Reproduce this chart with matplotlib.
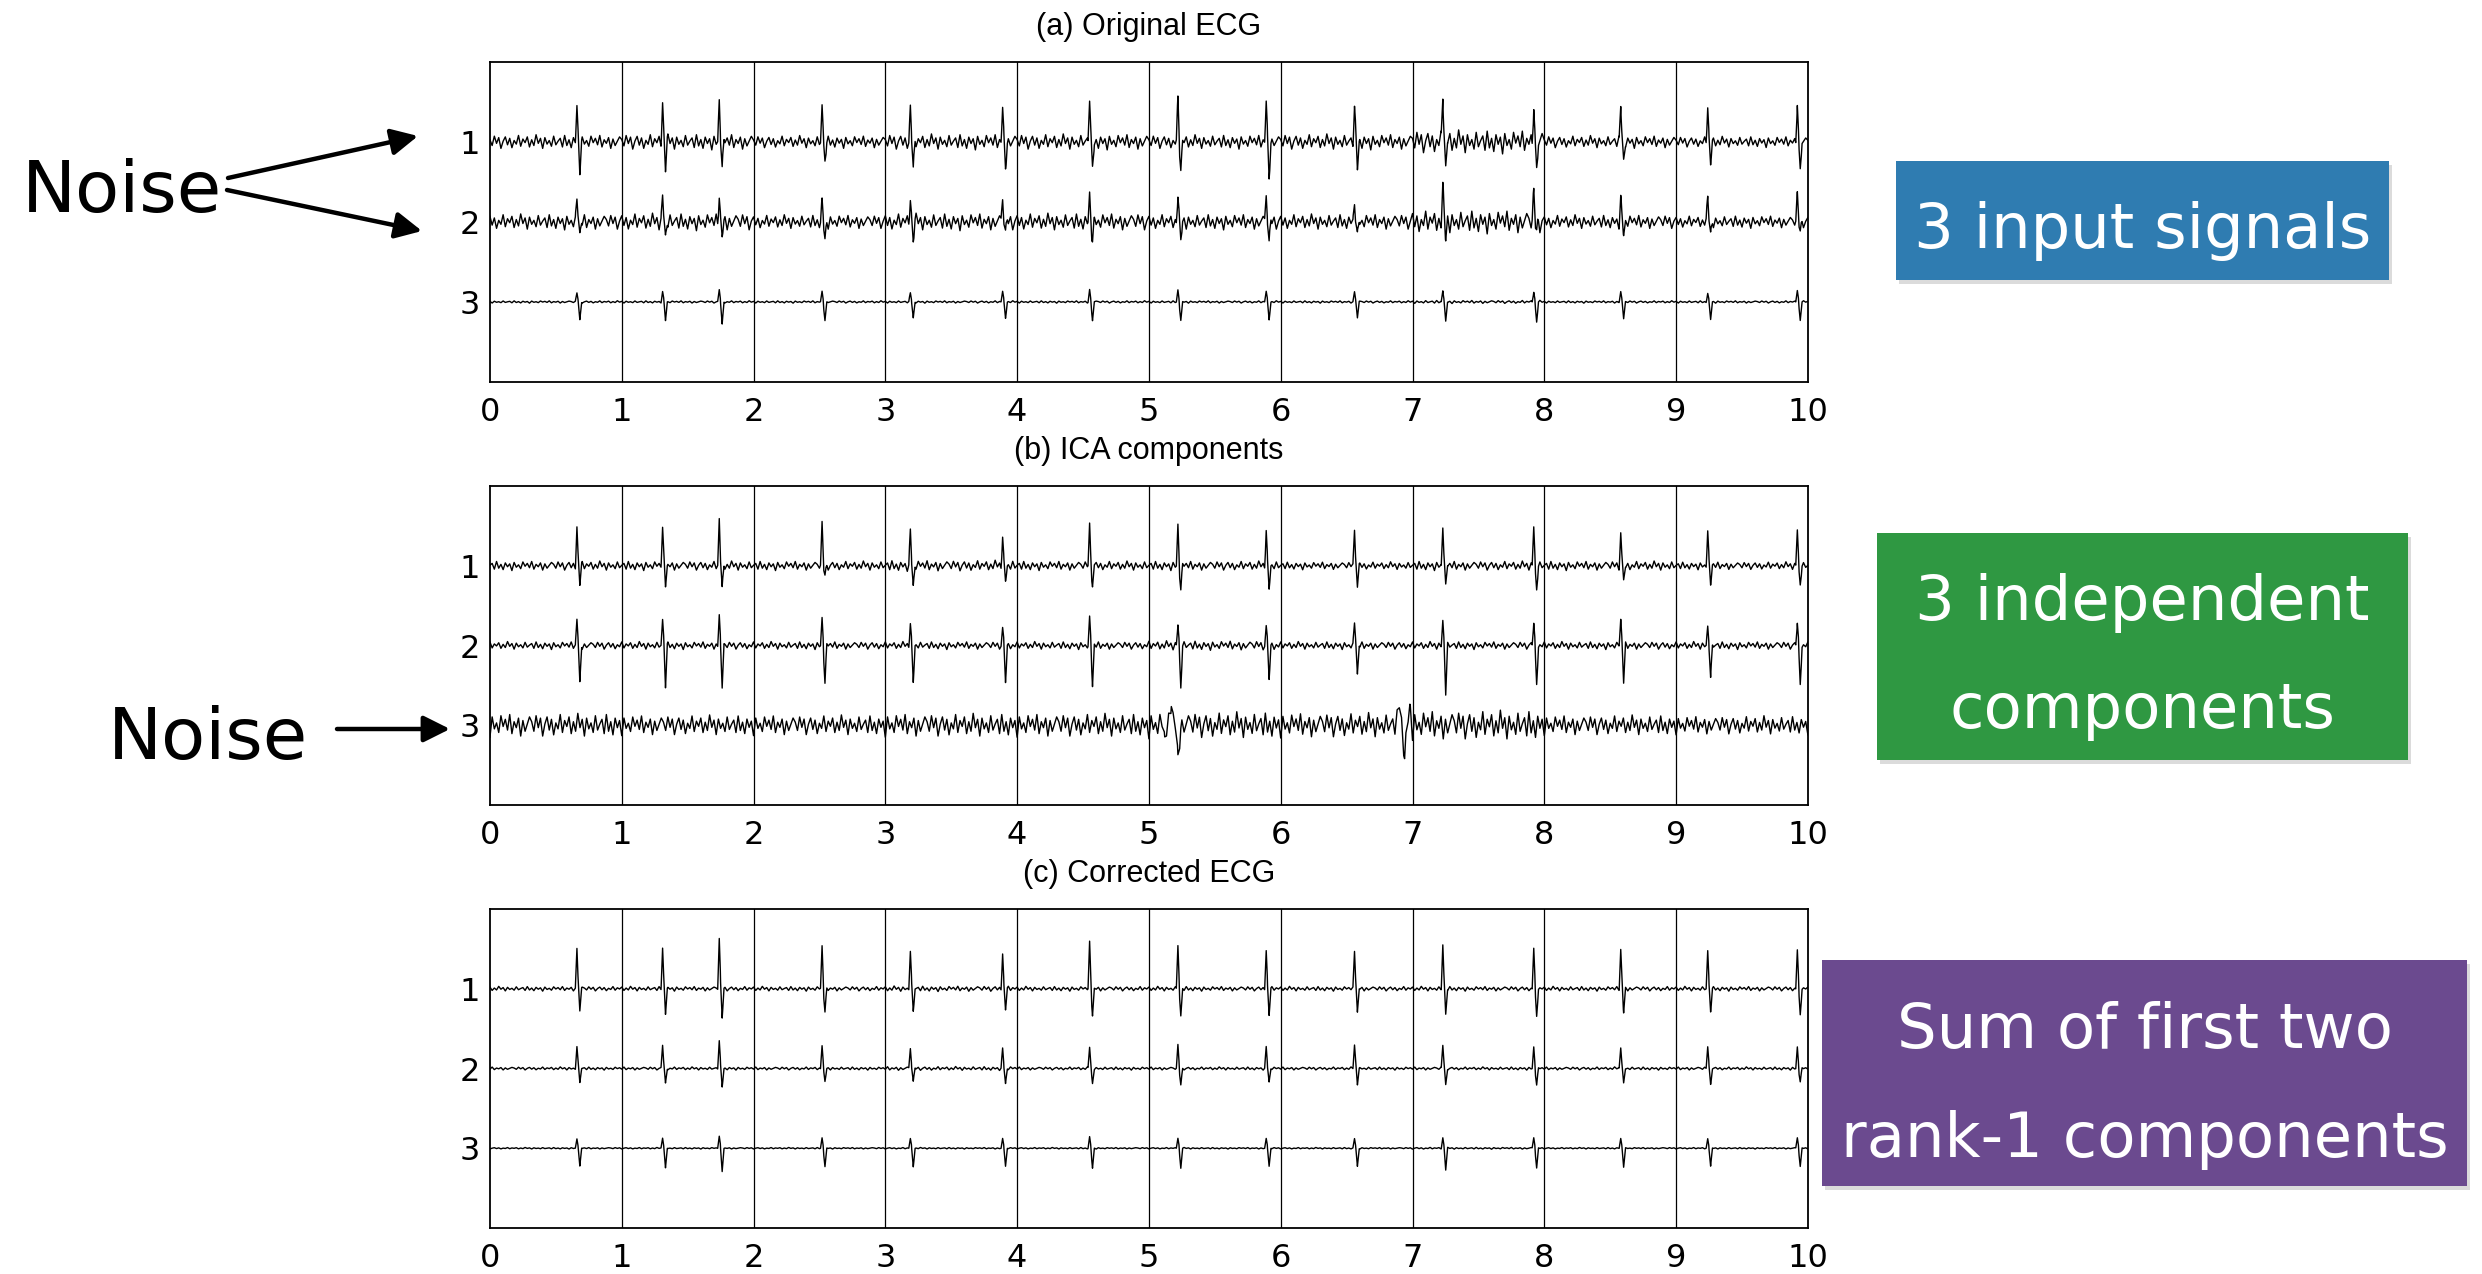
import numpy as np
import matplotlib
import matplotlib.pyplot as plt
from matplotlib.patches import Rectangle

# R-peak times (s), the same beats show in every trace
beat_times = [0.66, 1.31, 1.74, 2.52, 3.19, 3.89, 4.55, 5.22, 5.89, 6.56, 7.23, 7.92, 8.58, 9.24, 9.92]

# spike heights (up) and depths (down) per trace, in row units
a1_up = [0.44, 0.50, 0.54, 0.45, 0.46, 0.42, 0.58, 0.52, 0.50, 0.42, 0.58, 0.50, 0.46, 0.44, 0.50]
a1_dn = [0.33, 0.33, 0.35, 0.23, 0.37, 0.29, 0.35, 0.35, 0.42, 0.31, 0.35, 0.31, 0.23, 0.29, 0.33]
a2_up = [0.26, 0.33, 0.33, 0.26, 0.30, 0.28, 0.33, 0.33, 0.33, 0.26, 0.39, 0.33, 0.30, 0.28, 0.33]
a2_dn = [0.18, 0.18, 0.18, 0.22, 0.22, 0.15, 0.20, 0.26, 0.28, 0.18, 0.22, 0.13, 0.15, 0.15, 0.13]
a3_up = [0.11, 0.13, 0.15, 0.13, 0.11, 0.13, 0.15, 0.15, 0.13, 0.13, 0.15, 0.13, 0.13, 0.11, 0.15]
a3_dn = [0.23, 0.23, 0.28, 0.23, 0.20, 0.20, 0.23, 0.23, 0.22, 0.20, 0.25, 0.25, 0.22, 0.22, 0.23]

b1_up = [0.50, 0.46, 0.58, 0.52, 0.44, 0.38, 0.50, 0.52, 0.46, 0.46, 0.50, 0.50, 0.42, 0.44, 0.46]
b1_dn = [0.23, 0.23, 0.29, 0.13, 0.25, 0.19, 0.23, 0.31, 0.29, 0.27, 0.27, 0.29, 0.21, 0.25, 0.23]
b2_up = [0.33, 0.31, 0.40, 0.35, 0.29, 0.21, 0.33, 0.27, 0.23, 0.27, 0.31, 0.29, 0.31, 0.25, 0.29]
b2_dn = [0.48, 0.50, 0.56, 0.48, 0.46, 0.46, 0.52, 0.52, 0.42, 0.38, 0.60, 0.48, 0.46, 0.42, 0.48]
b3_up = [0.0] * 15
b3_dn = [0.0] * 15

c1_up = [0.51, 0.51, 0.63, 0.53, 0.47, 0.45, 0.57, 0.55, 0.49, 0.47, 0.55, 0.51, 0.49, 0.47, 0.49]
c1_dn = [0.28, 0.30, 0.37, 0.30, 0.28, 0.26, 0.33, 0.35, 0.33, 0.30, 0.33, 0.35, 0.30, 0.28, 0.33]
c2_up = [0.27, 0.29, 0.35, 0.29, 0.25, 0.25, 0.27, 0.29, 0.27, 0.29, 0.29, 0.27, 0.27, 0.27, 0.27]
c2_dn = [0.17, 0.19, 0.23, 0.17, 0.17, 0.19, 0.19, 0.21, 0.17, 0.19, 0.21, 0.21, 0.19, 0.19, 0.17]
c3_up = [0.12, 0.13, 0.15, 0.13, 0.12, 0.12, 0.14, 0.13, 0.12, 0.12, 0.13, 0.13, 0.12, 0.12, 0.13]
c3_dn = [0.23, 0.25, 0.29, 0.23, 0.23, 0.23, 0.25, 0.25, 0.23, 0.23, 0.27, 0.25, 0.23, 0.23, 0.23]

# noise amplitude in each 1-s slot (row units)
a1_noise = [0.09, 0.10, 0.08, 0.10, 0.10, 0.09, 0.10, 0.15, 0.08, 0.07]
a2_noise = [0.10, 0.11, 0.09, 0.11, 0.11, 0.10, 0.10, 0.15, 0.09, 0.08]
a3_noise = [0.015, 0.015, 0.015, 0.015, 0.015, 0.015, 0.015, 0.02, 0.015, 0.015]
b1_noise = [0.06, 0.06, 0.06, 0.07, 0.06, 0.06, 0.05, 0.06, 0.06, 0.05]
b2_noise = [0.05, 0.05, 0.05, 0.05, 0.05, 0.06, 0.05, 0.05, 0.05, 0.05]
b3_noise = [0.15, 0.13, 0.13, 0.15, 0.15, 0.17, 0.16, 0.19, 0.13, 0.12]
c1_noise = [0.03, 0.03, 0.03, 0.035, 0.03, 0.03, 0.03, 0.03, 0.03, 0.03]
c2_noise = [0.02, 0.02, 0.02, 0.025, 0.02, 0.02, 0.02, 0.02, 0.02, 0.02]
c3_noise = [0.01, 0.01, 0.01, 0.01, 0.01, 0.01, 0.01, 0.012, 0.01, 0.01]

# bursts in the ICA noise component (time, value)
b3_burst_t = [5.12, 5.17, 5.22, 6.90, 6.94, 6.98]
b3_burst_v = [-0.20, 0.32, -0.42, 0.30, -0.38, 0.22]

# hand-drawn noise texture, values in [-1, 1]
noise_tex = [0.3, -0.5, 0.8, -0.2, 0.6, -0.9, 0.1, 0.7, -0.4, 0.5, -0.8, 0.2, -0.3, 0.9, -0.6,
             0.4, -0.1, 0.7, -0.7, 0.3, -0.5, 1.0, -0.2, 0.5, -0.9, 0.6, -0.3, 0.2, -0.6, 0.8,
             -0.4, 0.1, 0.5, -0.7, 0.9, -0.5, 0.3, -0.8, 0.6, -0.2, 0.4, -1.0, 0.7, -0.3, 0.2,
             -0.6, 0.8, -0.1, 0.5, -0.4, 0.9, -0.7, 0.3, -0.2, 0.6, -0.9, 0.4, -0.5, 0.1, 0.7]

panel_titles = ['(a) Original ECG', '(b) ICA components', '(c) Corrected ECG']
x_ticks = list(range(11))
row_labels = ['1', '2', '3']

panels = [
    [(a1_up, a1_dn, a1_noise, 0), (a2_up, a2_dn, a2_noise, 7), (a3_up, a3_dn, a3_noise, 23)],
    [(b1_up, b1_dn, b1_noise, 31), (b2_up, b2_dn, b2_noise, 13), (b3_up, b3_dn, b3_noise, 41)],
    [(c1_up, c1_dn, c1_noise, 17), (c2_up, c2_dn, c2_noise, 49), (c3_up, c3_dn, c3_noise, 5)],
]


def make_trace(up, dn, level, offset, extra_t=(), extra_v=()):
    tn = np.arange(0, 10.0001, 1 / 60.)
    tex = np.array(noise_tex)
    lev = np.array(level)[np.minimum(tn.astype(int), 9)]
    vn = tex[(np.arange(len(tn)) + offset) % len(tex)] * lev
    verts = []
    for tb in beat_times:
        verts += [tb - 0.012, tb, tb + 0.008, tb + 0.022, tb + 0.036]
    verts += list(extra_t)
    t = np.union1d(tn, np.clip(verts, 0, 10))
    y = np.interp(t, tn, vn)
    for tb, u, d in zip(beat_times, up, dn):
        y += np.interp(t, [tb - 0.012, tb, tb + 0.012], [0, u, 0], left=0, right=0)
        y += np.interp(t, [tb + 0.008, tb + 0.022, tb + 0.036], [0, -d, 0], left=0, right=0)
    for te, ve in zip(extra_t, extra_v):
        y += np.interp(t, [te - 0.02, te, te + 0.02], [0, ve, 0], left=0, right=0)
    return t, y


fig = plt.figure(figsize=[24.82, 12.74], dpi=100)

axes_pos = [[0.1974, 0.7002, 0.5310, 0.2512],
            [0.1974, 0.3681, 0.5310, 0.2504],
            [0.1974, 0.0361, 0.5310, 0.2504]]

tick_font = ['Liberation Sans Narrow', 'DejaVu Sans']

for p in range(3):
    ax = fig.add_axes(axes_pos[p])
    for r in range(3):
        up, dn, lev, off = panels[p][r]
        if p == 1 and r == 2:
            t, y = make_trace(up, dn, lev, off, b3_burst_t, b3_burst_v)
        else:
            t, y = make_trace(up, dn, lev, off)
        ax.plot(t, (r + 1) - y, color='black', lw=1.0)
    for k in range(1, 10):
        ax.axvline(k, color='black', lw=0.9)
    ax.set_xlim(0, 10)
    ax.set_ylim(4, 0)
    ax.set_xticks(x_ticks)
    ax.set_xticklabels([str(v) for v in x_ticks], family=tick_font, fontsize=23)
    ax.set_yticks([1, 2, 3])
    ax.set_yticklabels(row_labels, family=tick_font, fontsize=23)
    ax.tick_params(axis='x', length=0, pad=11)
    ax.tick_params(axis='y', length=0, pad=7)
    for s in ax.spines.values():
        s.set_linewidth(1.3)
    ax.text(0.5, 1.11, panel_titles[p], transform=ax.transAxes, ha='center', va='center',
            family=['Liberation Sans', 'DejaVu Sans'], fontsize=22)

# overlay in pixel coordinates for the annotations
ov = fig.add_axes([0, 0, 1, 1])
ov.set_xlim(0, 2482)
ov.set_ylim(1274, 0)
ov.axis('off')

ov.text(22, 212, 'Noise', fontsize=52, family='DejaVu Sans', va='baseline', ha='left')
ov.text(108, 759, 'Noise', fontsize=52, family='DejaVu Sans', va='baseline', ha='left')

arrow_style = dict(arrowstyle='-|>,head_length=0.8,head_width=0.4', lw=3.2, color='black',
                   shrinkA=0, shrinkB=0, mutation_scale=20)
ov.annotate('', xy=(418, 136), xytext=(228, 178), arrowprops=arrow_style)
ov.annotate('', xy=(422, 231), xytext=(227, 190), arrowprops=arrow_style)
ov.annotate('', xy=(450, 729), xytext=(337, 729), arrowprops=arrow_style)

boxes = [
    (1896, 161, 493, 119, '#2f7cb1', ['3 input signals'], [248]),
    (1877, 533, 531, 227, '#2f9842', ['3 independent', 'components'], [620, 728]),
    (1822, 960, 645, 226, '#6b4a8f', ['Sum of first two', 'rank-1 components'], [1048, 1157]),
]
for x0, y0, w, h, col, lines, bases in boxes:
    ov.add_patch(Rectangle((x0 + 3, y0 + 4), w, h, facecolor='#999999', alpha=0.35, edgecolor='none'))
    ov.add_patch(Rectangle((x0, y0), w, h, facecolor=col, edgecolor='none'))
    for txt, yb in zip(lines, bases):
        ov.text(x0 + w / 2, yb, txt, color='white', fontsize=45, family='DejaVu Sans',
                ha='center', va='baseline')

fig.savefig('out.png', dpi=100)
